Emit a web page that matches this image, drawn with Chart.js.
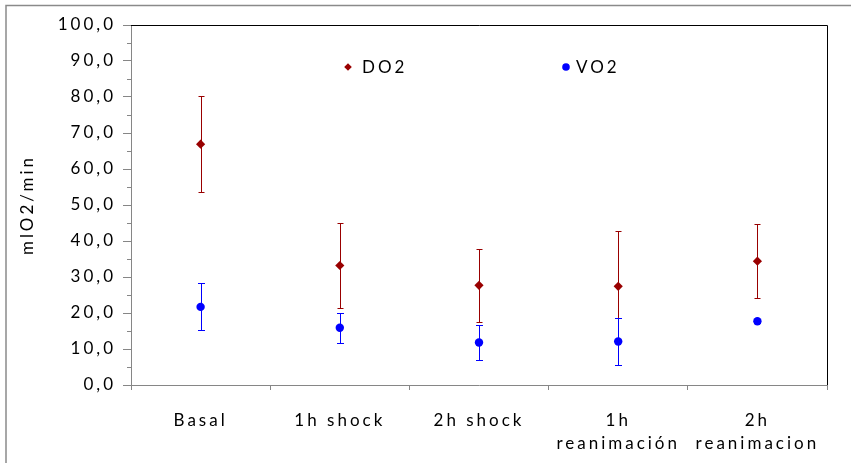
<!DOCTYPE html>
<html>
<head>
<meta charset="utf-8">
<script src="https://cdn.jsdelivr.net/npm/chart.js@4"></script>
<style>
  html, body { margin: 0; padding: 0; background: #ffffff; }
  #c { display: block; }
</style>
</head>
<body>
<canvas id="c" width="851" height="463"></canvas>
<script>
// Oxygen delivery (DO2) and consumption (VO2) by stage, mean ± SD
const categories = ['Basal', '1h shock', '2h shock', ['1h', 'reanimación'], ['2h', 'reanimacion']];
const do2Mean = [66.9, 33.2, 27.7, 27.4, 34.4];
const do2Sd   = [13.3, 11.9, 10.2, 15.4, 10.2];
const vo2Mean = [21.7, 15.9, 11.8, 12.1, 17.7];
const vo2Sd   = [6.5, 4.2, 4.9, 6.5, 0.4];
const yTickValues = [0, 10, 20, 30, 40, 50, 60, 70, 80, 90, 100];
const seriesNames = ['DO2', 'VO2'];

const FONT = 'Lato, Calibri, "DejaVu Sans", sans-serif';
const DO2_COLOR = '#990000';
const VO2_COLOR = '#0000ff';
const AXIS_COLOR = '#868686';
const SPACING = '3px';

const fmt = v => v.toFixed(1).replace('.', ',');

// Spaced lettering for all canvas text
const letterSpacing = {
  id: 'letterSpacing',
  beforeUpdate(chart) { chart.ctx.letterSpacing = SPACING; },
  beforeDraw(chart) { chart.ctx.letterSpacing = SPACING; }
};

// Outer frame, plot frame (top/right), minor ticks and the in-plot legend
const frame = {
  id: 'frame',
  beforeDraw(chart) {
    const ctx = chart.ctx;
    ctx.save();
    ctx.strokeStyle = '#8a8a8a';
    ctx.lineWidth = 1.5;
    ctx.beginPath();
    ctx.moveTo(6, chart.height);
    ctx.lineTo(6, 5.5);
    ctx.lineTo(chart.width, 5.5);
    ctx.stroke();
    ctx.restore();
  },
  afterDraw(chart) {
    const ctx = chart.ctx;
    const a = chart.chartArea;
    const y = chart.scales.y;
    ctx.save();
    ctx.strokeStyle = '#000000';
    ctx.lineWidth = 1;
    ctx.beginPath();
    ctx.moveTo(a.left, Math.round(a.top) + 0.5);
    ctx.lineTo(Math.round(a.right) + 0.5, Math.round(a.top) + 0.5);
    ctx.lineTo(Math.round(a.right) + 0.5, a.bottom);
    ctx.stroke();
    ctx.strokeStyle = AXIS_COLOR;
    ctx.beginPath();
    for (let v = 5; v < 100; v += 10) {
      const py = Math.round(y.getPixelForValue(v)) + 0.5;
      ctx.moveTo(a.left - 4, py);
      ctx.lineTo(a.left, py);
    }
    ctx.stroke();
    // legend inside the plot
    const ly = a.top + 42;
    ctx.font = '17px ' + FONT;
    ctx.textBaseline = 'middle';
    ctx.textAlign = 'left';
    const dx = a.left + 217, vx = a.left + 435;
    ctx.fillStyle = DO2_COLOR;
    ctx.beginPath();
    ctx.moveTo(dx, ly - 3.8); ctx.lineTo(dx + 3.8, ly); ctx.lineTo(dx, ly + 3.8); ctx.lineTo(dx - 3.8, ly);
    ctx.closePath(); ctx.fill();
    ctx.fillStyle = VO2_COLOR;
    ctx.beginPath(); ctx.arc(vx, ly, 3.8, 0, Math.PI * 2); ctx.fill();
    ctx.fillStyle = '#000000';
    ctx.fillText(seriesNames[0], dx + 14, ly + 1);
    ctx.fillText(seriesNames[1], vx + 10, ly + 1);
    ctx.restore();
  }
};

// Standard-deviation whiskers drawn from the mean/SD arrays
const errorBars = {
  id: 'errorBars',
  beforeDatasetsDraw(chart) {
    const ctx = chart.ctx;
    const xs = chart.scales.x, ys = chart.scales.y;
    const draw = (means, sds, color, cap) => {
      ctx.save();
      ctx.strokeStyle = color;
      ctx.lineWidth = 1;
      ctx.beginPath();
      means.forEach((m, i) => {
        const px = Math.round(xs.getPixelForValue(i)) + 0.5;
        const hi = Math.round(ys.getPixelForValue(m + sds[i])) + 0.5;
        const lo = Math.round(ys.getPixelForValue(m - sds[i])) + 0.5;
        ctx.moveTo(px, hi); ctx.lineTo(px, lo);
        ctx.moveTo(px - cap, hi); ctx.lineTo(px + cap, hi);
        ctx.moveTo(px - cap, lo); ctx.lineTo(px + cap, lo);
      });
      ctx.stroke();
      ctx.restore();
    };
    draw(do2Mean, do2Sd, DO2_COLOR, 3);
    draw(vo2Mean, vo2Sd, VO2_COLOR, 3.5);
  }
};

new Chart(document.getElementById('c'), {
  type: 'line',
  data: {
    labels: categories,
    datasets: [
      {
        label: seriesNames[1],
        data: vo2Mean,
        showLine: false,
        pointStyle: 'circle',
        pointRadius: 4.2,
        pointBackgroundColor: VO2_COLOR,
        pointBorderColor: VO2_COLOR,
        pointBorderWidth: 0
      },
      {
        label: seriesNames[0],
        data: do2Mean,
        showLine: false,
        pointStyle: 'rectRot',
        pointRadius: 4.6,
        pointBackgroundColor: DO2_COLOR,
        pointBorderColor: DO2_COLOR,
        pointBorderWidth: 0
      }
    ]
  },
  options: {
    responsive: false,
    animation: false,
    devicePixelRatio: 1,
    layout: { padding: { top: 25, right: 24, left: 0, bottom: 0 } },
    plugins: {
      legend: { display: false },
      tooltip: { enabled: false }
    },
    scales: {
      x: {
        offset: true,
        grid: { offset: true, drawOnChartArea: false, drawTicks: true, tickLength: 5, color: AXIS_COLOR },
        border: { color: AXIS_COLOR, width: 1 },
        ticks: {
          color: '#000000',
          font: { family: FONT, size: 17, lineHeight: '23px' },
          padding: 19,
          maxRotation: 0,
          autoSkip: false
        },
        afterFit(scale) { scale.height = 78; }
      },
      y: {
        min: 0,
        max: 100,
        afterBuildTicks(scale) { scale.ticks = yTickValues.map(v => ({ value: v })); },
        grid: { drawOnChartArea: false, drawTicks: true, tickLength: 8, color: AXIS_COLOR },
        border: { color: AXIS_COLOR, width: 1 },
        ticks: {
          color: '#000000',
          font: { family: FONT, size: 17 },
          padding: 7,
          callback: v => fmt(v)
        },
        title: {
          display: true,
          text: 'mlO2/min',
          color: '#000000',
          font: { family: FONT, size: 17 },
          padding: { top: 17, bottom: 0 }
        },
        afterFit(scale) { scale.width = 131; }
      }
    }
  },
  plugins: [letterSpacing, errorBars, frame]
});
</script>
</body>
</html>
